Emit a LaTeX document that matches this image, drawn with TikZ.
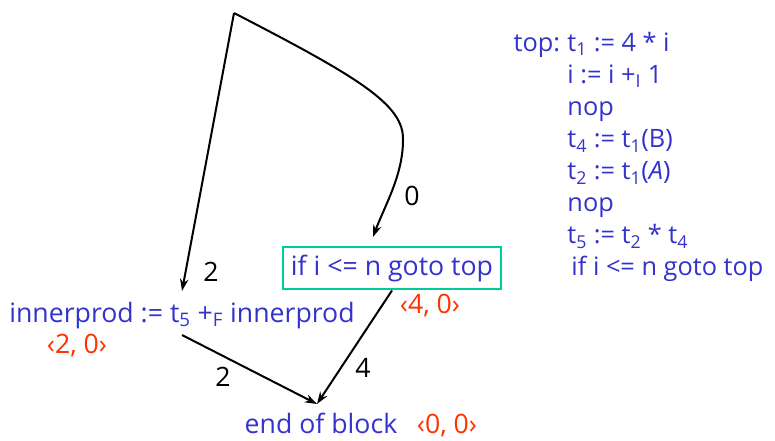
\documentclass[tikz,border=0pt]{standalone}
\usepackage{fontspec}
\setmainfont{Open Sans}
\usepackage{xcolor}
\usetikzlibrary{arrows.meta,positioning,calc}
\definecolor{codeblue}{RGB}{51,51,204}
\definecolor{tuplered}{RGB}{255,51,0}
\definecolor{boxgreen}{RGB}{0,204,153}

\begin{document}
\begin{tikzpicture}[
  x=0.75pt, y=-0.75pt,
  font=\fontsize{20}{24}\selectfont,
  >={Stealth[length=3.2mm,width=2.2mm]},
  edge/.style={->, line width=1.5pt},
  stmt/.style={text=codeblue, inner sep=1pt},
  instr/.style={stmt, draw=boxgreen, line width=1.6pt, inner xsep=6pt, inner ysep=6pt},
  tuple/.style={text=tuplered, inner sep=1pt},
  wt/.style={inner sep=1pt},
]
  \useasboundingbox (0,0) rectangle (775,440);
  % ---------------- statements ----------------
  \coordinate (apex) at (234,13);
  \node[instr, anchor=base] (ifnode) at (392,275) {if i <= n goto top};
  \node[stmt, anchor=base] (inner) at (182,322) {innerprod := t\textsubscript{5} +\textsubscript{F} innerprod};
  \node[stmt, anchor=base] (endb) at (321,433) {end of block};
  \node[tuple, anchor=base] (t00) at (447,433) {‹0, 0›};
  \node[tuple, anchor=base] (t40) at (430,313) {‹4, 0›};
  \node[tuple, anchor=base] (t20) at (77,353) {‹2, 0›};
  % ---------------- edge ends ----------------
  \coordinate (ifin) at (373,237);
  \coordinate (innerin) at (182,291);
  \coordinate (innerout) at (182,335);
  \coordinate (endin) at (317,404);
  % ---------------- edges ----------------
  \draw[edge] (apex) -- (innerin);
  \draw[edge] (apex) .. controls (360,78) and (404,105) .. (403,140)
    .. controls (403,175) and (385,205) .. (ifin);
  \draw[edge] (innerout) -- (endin);
  \draw[edge] (ifnode.south) -- (endin);
  \node[wt] (w0) at (412,196) {0};
  \node[wt] (w2a) at (211,272) {2};
  \node[wt] (w2b) at (223,377) {2};
  \node[wt] (w4) at (363,368) {4};
  % ---------------- code listing ----------------
  \node[stmt, anchor=base west, font=\fontsize{19}{24.1}\selectfont] (code) at (512,51) {%
    \begin{tabular}[t]{@{}l@{\hspace{5.5pt}}l@{}}
      top:& t\textsubscript{1} := 4 * i\\
          & i := i +\textsubscript{I} 1\\
          & nop\\
          & t\textsubscript{4} := t\textsubscript{1}(B)\\
          & t\textsubscript{2} := t\textsubscript{1}(\textit{A})\\
          & nop\\
          & t\textsubscript{5} := t\textsubscript{2} * t\textsubscript{4}\\
          & \hspace{3pt}if i <= n goto top
    \end{tabular}};
\end{tikzpicture}
\end{document}
